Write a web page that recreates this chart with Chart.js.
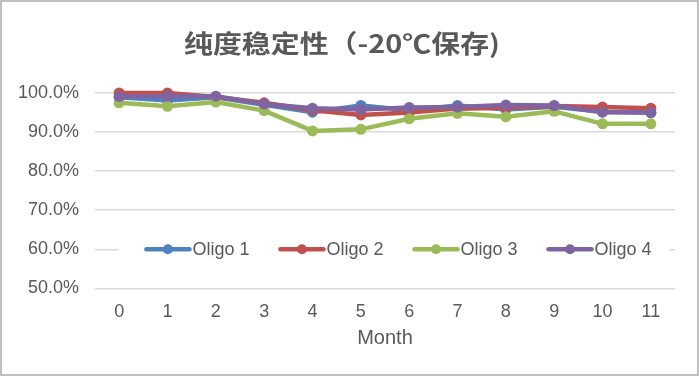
<!DOCTYPE html>
<html>
<head>
<meta charset="utf-8">
<script src="https://cdn.jsdelivr.net/npm/chart.js@4"></script>
<style>
  html, body { margin: 0; padding: 0; background: #fff; }
  #box { width: 699px; height: 376px; box-sizing: border-box; border: 2px solid #bfbfbf; position: relative; }
</style>
</head>
<body>
<div id="box"><canvas id="purityChart"></canvas></div>
<script>
const months = ['0','1','2','3','4','5','6','7','8','9','10','11'];
const seriesNames = ['Oligo 1','Oligo 2','Oligo 3','Oligo 4'];
const oligo1 = [98.9, 98.1, 98.9, 97.0, 95.1, 96.8, 95.6, 96.8, 95.8, 96.5, 95.2, 95.0];
const oligo2 = [100.0, 100.0, 99.0, 97.5, 95.6, 94.4, 95.0, 96.0, 96.2, 96.7, 96.4, 96.1];
const oligo3 = [97.5, 96.6, 97.7, 95.5, 90.3, 90.7, 93.4, 94.8, 93.9, 95.3, 92.1, 92.1];
const oligo4 = [99.1, 99.2, 99.2, 97.2, 96.1, 95.8, 96.3, 96.4, 96.9, 96.8, 95.1, 95.0];
const colors = ['#4f81bd','#c0504d','#9bbb59','#8064a2'];
const chartTitle = '纯度稳定性（-20℃保存)';

const textColor = '#595959';
const fontFamily = '"Liberation Sans", Arial, sans-serif';

// title drawn by hand: Excel's bold CJK face is wider than Noto's
const excelTitle = {
  id: 'excelTitle',
  afterDraw(chart) {
    const ctx = chart.ctx;
    ctx.save();
    ctx.font = 'bold 25px "Noto Sans CJK SC", sans-serif';
    const w = ctx.measureText(chartTitle).width;
    const sx = 316 / w;
    ctx.translate(340, 41);
    ctx.scale(sx, 1);
    ctx.fillStyle = textColor;
    ctx.textAlign = 'center';
    ctx.textBaseline = 'middle';
    ctx.fillText(chartTitle, 0, 0);
    ctx.restore();
  }
};

// legend sits inside the plot, on top of the 60% gridline
const insideLegend = {
  id: 'insideLegend',
  beforeDatasetsDraw(chart) {
    const ctx = chart.ctx;
    const area = chart.chartArea;
    const cy = chart.scales.y.getPixelForValue(60);
    ctx.save();
    ctx.font = '18px ' + fontFamily;
    const sample = 43, gapText = 3, gapItem = 31;
    const widths = seriesNames.map(n => ctx.measureText(n).width);
    let total = 0;
    widths.forEach(w => total += sample + gapText + w);
    total += gapItem * (seriesNames.length - 1);
    let x = (area.left + area.right) / 2 + 14 - total / 2;
    ctx.fillStyle = '#fff';
    ctx.fillRect(x - 28, cy - 12, total + 46, 24);
    ctx.textBaseline = 'middle';
    seriesNames.forEach((n, i) => {
      ctx.strokeStyle = colors[i];
      ctx.lineWidth = 4.5;
      ctx.lineCap = 'round';
      ctx.beginPath();
      ctx.moveTo(x, cy);
      ctx.lineTo(x + sample, cy);
      ctx.stroke();
      ctx.fillStyle = colors[i];
      ctx.beginPath();
      ctx.arc(x + sample / 2, cy, 5, 0, Math.PI * 2);
      ctx.fill();
      ctx.fillStyle = textColor;
      ctx.fillText(n, x + sample + gapText, cy + 1);
      x += sample + gapText + widths[i] + gapItem;
    });
    ctx.restore();
  }
};

const ctx = document.getElementById('purityChart');
const allData = [oligo1, oligo2, oligo3, oligo4];

new Chart(ctx, {
  type: 'line',
  data: {
    labels: months,
    datasets: allData.map((d, i) => ({
      label: seriesNames[i],
      data: d,
      borderColor: colors[i],
      backgroundColor: colors[i],
      pointBackgroundColor: colors[i],
      pointBorderWidth: 0,
      pointRadius: 5.5,
      borderWidth: 4.5,
      tension: 0,
      order: 4 - i,
      clip: false
    }))
  },
  options: {
    responsive: true,
    maintainAspectRatio: false,
    animation: false,
    layout: {
      padding: { left: 0, right: 22, top: 91, bottom: 24 }
    },
    plugins: {
      legend: { display: false },
      tooltip: { enabled: false },
      title: { display: false }
    },
    scales: {
      x: {
        offset: true,
        grid: { display: false },
        border: { display: false },
        ticks: {
          color: textColor,
          padding: 5,
          font: { family: fontFamily, size: 18 }
        },
        title: {
          display: true,
          text: 'Month',
          color: textColor,
          padding: { top: -2, bottom: 0 },
          font: { family: fontFamily, size: 20 }
        }
      },
      y: {
        min: 50,
        max: 100,
        afterFit(scale) { scale.width = 93; },
        grid: { color: '#d9d9d9', lineWidth: 1.5, drawTicks: false },
        border: { display: false },
        ticks: {
          stepSize: 10,
          color: textColor,
          padding: 16,
          font: { family: fontFamily, size: 18 },
          callback: v => v.toFixed(1) + '%'
        }
      }
    }
  },
  plugins: [insideLegend, excelTitle]
});
</script>
</body>
</html>
